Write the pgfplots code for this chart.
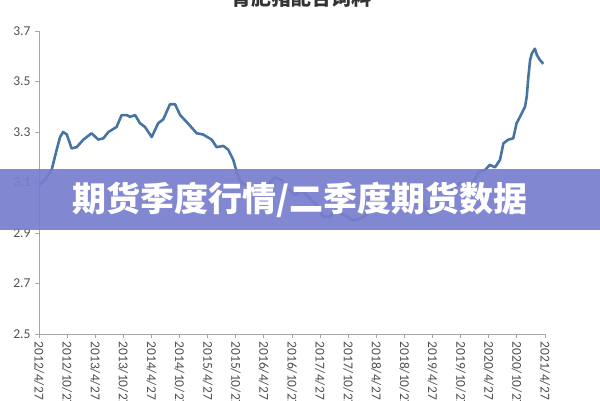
\documentclass[border=0pt]{standalone}
\usepackage{fontspec}
\setmainfont{Carlito}
\newfontfamily\cjk{Noto Sans CJK SC}
\usepackage{pgfplots}
\pgfplotsset{compat=1.18}

\definecolor{linec}{RGB}{72,116,164}
\definecolor{axisc}{RGB}{166,166,166}
\definecolor{labc}{RGB}{80,80,80}
\definecolor{band}{RGB}{120,126,206}

\pgfplotstableread{
t v
0.00 3.09
0.21 3.11
0.45 3.15
0.63 3.23
0.75 3.28
0.86 3.30
0.99 3.29
1.16 3.235
1.34 3.24
1.58 3.27
1.87 3.295
2.11 3.27
2.29 3.275
2.47 3.30
2.76 3.32
2.94 3.367
3.12 3.367
3.24 3.36
3.42 3.367
3.59 3.335
3.77 3.32
4.01 3.28
4.24 3.335
4.42 3.35
4.66 3.41
4.84 3.41
5.02 3.367
5.25 3.34
5.61 3.295
5.84 3.29
6.14 3.27
6.32 3.24
6.56 3.245
6.73 3.23
6.91 3.19
7.09 3.12
7.21 3.10
7.51 3.08
7.97 3.08
8.22 3.10
8.40 3.12
8.63 3.11
8.81 3.08
9.11 3.05
9.35 3.07
9.52 3.05
9.88 3.01
10.11 2.965
10.35 2.965
10.53 2.985
10.89 2.97
11.17 2.95
11.49 2.96
11.85 2.99
12.20 3.01
12.56 3.02
12.95 3.00
13.27 3.02
13.55 3.03
13.73 3.00
13.91 2.97
14.27 3.02
14.62 3.06
14.98 3.10
15.15 3.09
15.45 3.10
15.63 3.14
15.87 3.15
16.04 3.17
16.22 3.16
16.40 3.19
16.52 3.255
16.70 3.27
16.87 3.275
16.99 3.335
17.11 3.36
17.29 3.40
17.35 3.44
17.41 3.52
17.47 3.585
17.53 3.61
17.58 3.62
17.64 3.63
17.71 3.605
17.82 3.585
17.94 3.57
}\feed

\begin{document}
\begin{tikzpicture}[x=1pt,y=1pt]
  \begin{axis}[
    at={(39pt,66pt)}, anchor=south west,
    scale only axis,
    width=506pt, height=303pt,
    xmin=0, xmax=18, ymin=2.5, ymax=3.7,
    axis lines=left,
    axis line style={-, draw=axisc, line width=0.8pt},
    tick style={draw=axisc, line width=0.8pt},
    tick align=outside,
    major tick length=4pt,
    ytick={2.5,2.7,...,3.71},
    yticklabel style={/pgf/number format/fixed, /pgf/number format/fixed zerofill,
      /pgf/number format/precision=1, font=\fontsize{13.5}{15}\selectfont, text=labc,
      xshift=-1pt},
    /pgf/number format/assume math mode=true,
    xtick={0,...,18},
    xticklabels={2012/4/27,2012/10/27,2013/4/27,2013/10/27,2014/4/27,2014/10/27,
      2015/4/27,2015/10/27,2016/4/27,2016/10/27,2017/4/27,2017/10/27,2018/4/27,
      2018/10/27,2019/4/27,2019/10/27,2020/4/27,2020/10/27,2021/4/27},
    xticklabel style={rotate=-90, anchor=west, font=\fontsize{13.5}{15}\selectfont, text=labc},
  ]
    \addplot[linec, line width=2.6pt, line join=round] table[x=t, y=v] {\feed};
  \end{axis}
  % title, cut by the top edge as in the source image
  \node[font=\cjk\bfseries\fontsize{20}{22}\selectfont, text=black!80] at (301,402) {育肥猪配合饲料};
  % overlaid banner
  \fill[band, opacity=0.93] (0,170) rectangle (600,231);
  \node[font=\cjk\bfseries\fontsize{34}{36}\selectfont, text=white] at (300,200) {期货季度行情/二季度期货数据};
  \pgfresetboundingbox
  \path[use as bounding box] (0,0) rectangle (600,400);
\end{tikzpicture}
\end{document}
